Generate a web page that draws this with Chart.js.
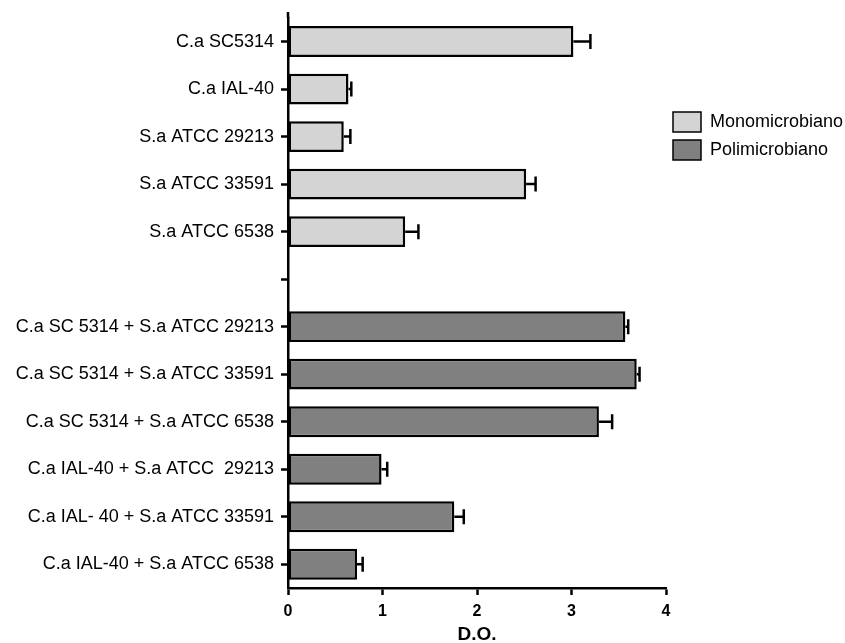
<!DOCTYPE html>
<html>
<head>
<meta charset="utf-8">
<script src="https://cdn.jsdelivr.net/npm/chart.js@4/dist/chart.umd.min.js"></script>
<style>
html,body{margin:0;padding:0;background:#fff;}
#wrap{width:845px;height:643px;position:relative;}
</style>
</head>
<body>
<div id="wrap"><canvas id="c" width="845" height="643"></canvas></div>
<script>
const categories = [
  'C.a SC5314',
  'C.a IAL-40',
  'S.a ATCC 29213',
  'S.a ATCC 33591',
  'S.a ATCC 6538',
  '',
  'C.a SC 5314 + S.a ATCC 29213',
  'C.a SC 5314 + S.a ATCC 33591',
  'C.a SC 5314 + S.a ATCC 6538',
  'C.a IAL-40 + S.a ATCC  29213',
  'C.a IAL- 40 + S.a ATCC 33591',
  'C.a IAL-40 + S.a ATCC 6538'
];
const seriesNames = ['Monomicrobiano', 'Polimicrobiano'];
const monoValues = [3.02, 0.64, 0.59, 2.52, 1.24, null, null, null, null, null, null, null];
const monoErrors = [0.18, 0.03, 0.07, 0.10, 0.14, null, null, null, null, null, null, null];
const polyValues = [null, null, null, null, null, null, 3.57, 3.69, 3.29, 0.99, 1.76, 0.73];
const polyErrors = [null, null, null, null, null, null, 0.03, 0.03, 0.14, 0.06, 0.10, 0.06];
const xTicks = [0, 1, 2, 3, 4];
const xTitle = 'D.O.';

const FONT = "'Liberation Sans', Arial, Helvetica, sans-serif";
const colors = ['#d4d4d4', '#808080'];

const errorBars = {
  id: 'errorBars',
  afterDatasetsDraw(chart) {
    const ctx = chart.ctx;
    const xs = chart.scales.x;
    const errs = [monoErrors, polyErrors];
    ctx.save();
    ctx.strokeStyle = '#000';
    ctx.lineWidth = 2.5;
    chart.data.datasets.forEach((ds, di) => {
      const meta = chart.getDatasetMeta(di);
      meta.data.forEach((el, i) => {
        const v = ds.data[i];
        const e = errs[di][i];
        if (v == null || e == null) return;
        const x0 = xs.getPixelForValue(v);
        const x1 = xs.getPixelForValue(v + e);
        const y = el.y;
        ctx.beginPath();
        ctx.moveTo(x0, y);
        ctx.lineTo(x1, y);
        ctx.moveTo(x1, y - 7.5);
        ctx.lineTo(x1, y + 7.5);
        ctx.stroke();
      });
    });
    ctx.restore();
  }
};

const customLegend = {
  id: 'customLegend',
  afterDraw(chart) {
    const ctx = chart.ctx;
    ctx.save();
    const x = 673, ys = [112, 140];
    seriesNames.forEach((name, i) => {
      ctx.fillStyle = colors[i];
      ctx.fillRect(x, ys[i], 28, 20);
      ctx.strokeStyle = '#000';
      ctx.lineWidth = 1.5;
      ctx.strokeRect(x, ys[i], 28, 20);
      ctx.fillStyle = '#000';
      ctx.font = '18px ' + FONT;
      ctx.textBaseline = 'middle';
      ctx.textAlign = 'left';
      ctx.fillText(name, 710, ys[i] + 10.5);
    });
    ctx.strokeStyle = '#000';
    ctx.lineWidth = 2.5;
    ctx.beginPath();
    ctx.moveTo(chart.chartArea.left, 12);
    ctx.lineTo(chart.chartArea.left, chart.chartArea.top);
    ctx.stroke();
    ctx.restore();
  }
};

new Chart(document.getElementById('c'), {
  type: 'bar',
  data: {
    labels: categories,
    datasets: [
      { label: seriesNames[0], data: monoValues, backgroundColor: colors[0], borderColor: '#000', borderWidth: 2.5, borderSkipped: false, grouped: false },
      { label: seriesNames[1], data: polyValues, backgroundColor: colors[1], borderColor: '#000', borderWidth: 2.5, borderSkipped: false, grouped: false }
    ]
  },
  options: {
    indexAxis: 'y',
    responsive: false,
    animation: false,
    maintainAspectRatio: false,
    barPercentage: 0.65,
    categoryPercentage: 1,
    layout: { padding: { top: 17, right: 179, left: 0, bottom: 0 } },
    plugins: { legend: { display: false }, tooltip: { enabled: false } },
    scales: {
      x: {
        min: 0, max: 4,
        afterBuildTicks(scale) { scale.ticks = xTicks.map(v => ({ value: v })); },
        afterFit(scale) { scale.height = 55; },
        grid: { drawOnChartArea: false, drawTicks: true, tickLength: 7, tickColor: '#000', tickWidth: 2.5 },
        border: { color: '#000', width: 2.5 },
        ticks: { color: '#000', padding: 7, font: { family: FONT, size: 16, weight: 'bold' } },
        title: { display: true, text: xTitle, color: '#000', padding: { top: 0, bottom: -1 }, font: { family: FONT, size: 19, weight: 'bold', lineHeight: 1 } }
      },
      y: {
        afterFit(scale) { scale.width = 288; },
        grid: { offset: false, drawOnChartArea: false, drawTicks: true, tickLength: 7, tickColor: '#000', tickWidth: 2.5 },
        border: { color: '#000', width: 2.5 },
        ticks: { color: '#000', padding: 7, autoSkip: false, font: { family: FONT, size: 18 } }
      }
    }
  },
  plugins: [errorBars, customLegend]
});
</script>
</body>
</html>
